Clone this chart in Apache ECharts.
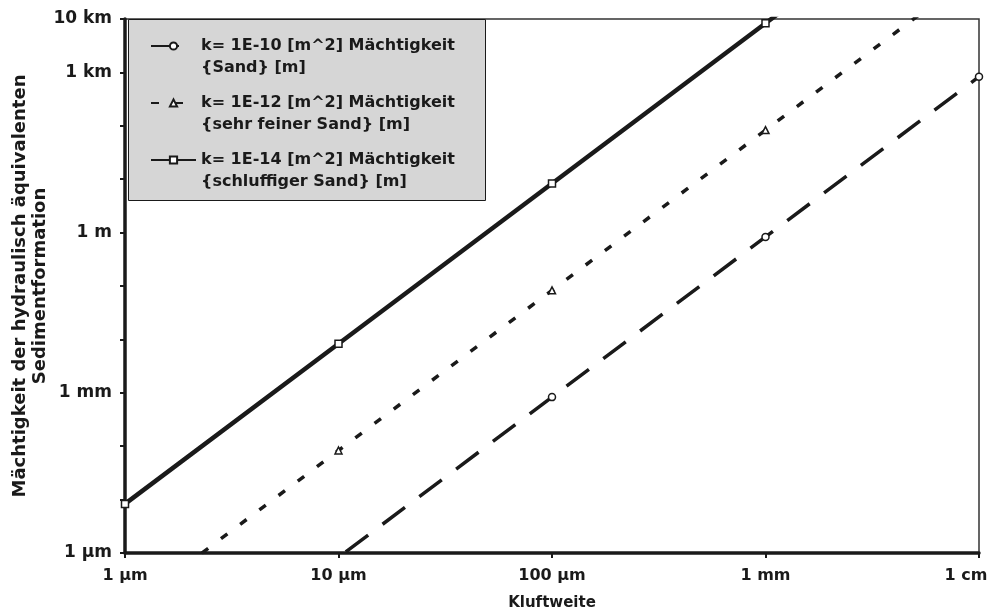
<!DOCTYPE html>
<html><head><meta charset="utf-8">
<script src="https://cdn.jsdelivr.net/npm/echarts@6/dist/echarts.min.js"></script>
<style>html,body{margin:0;padding:0;background:#fff}#c{width:995px;height:612px}</style>
</head><body><div id="c"></div>
<script>
// Data
const kluftweite = [1e-6, 1e-5, 1e-4, 1e-3, 1e-2];           // x values [m]
const hSand = [8.3e-10, 8.3e-7, 8.3e-4, 0.83, 830];           // k=1E-10
const hFeinSand = [8.3e-8, 8.3e-5, 0.083, 83, 83000];         // k=1E-12
const hSchluff = [8.3e-6, 8.3e-3, 8.3, 8300, 8300000];        // k=1E-14
const seriesNames = [
  'k= 1E-10 [m^2] Mächtigkeit\n{Sand} [m]',
  'k= 1E-12 [m^2] Mächtigkeit\n{sehr feiner Sand} [m]',
  'k= 1E-14 [m^2] Mächtigkeit\n{schluffiger Sand} [m]'
];
const xTickLabels = {'-6':'1 µm','-5':'10 µm','-4':'100 µm','-3':'1 mm','-2':'1 cm'};
const yTickLabels = {'-6':'1 µm','-3':'1 mm','0':'1 m','3':'1 km','4':'10 km'};

const font = 'DejaVu Sans';
const ink = '#1a1a1a';
const pairs = (ys) => kluftweite.map((x, i) => [x, ys[i]]);
const expOf = (v) => String(Math.round(Math.log10(v)));
const lab = (map) => (v) => map[expOf(v)] || '';

const chart = echarts.init(document.getElementById('c'));
const mk = (name, ys, sym, lw, dash) => ({
  name, type: 'line', data: pairs(ys), symbol: sym, symbolSize: 7, showAllSymbol: true,
  clip: true, z: 3,
  lineStyle: {color: ink, width: lw, type: dash},
  itemStyle: {color: '#fff', borderColor: ink, borderWidth: 1.5}
});
chart.setOption({
  backgroundColor: '#fff',
  animation: false,
  grid: {left: 125, right: 16, top: 19, bottom: 59, show: true, borderColor: '#333', borderWidth: 1.5,
    outerBoundsMode: 'none', containLabel: false},
  graphic: [{type: 'rect', left: 128, top: 19, shape: {width: 357, height: 181}, z: 10,
    style: {fill: '#d6d6d6', stroke: ink, lineWidth: 1}}],
  legend: {
    left: 150, top: 13, orient: 'vertical', z: 11, itemWidth: 45, itemHeight: 9, itemGap: -9,
    padding: 0, selectedMode: false,
    formatter: (n) => '\n' + n,
    textStyle: {fontFamily: font, fontWeight: 'bold', fontSize: 16, lineHeight: 22, color: ink}
  },
  xAxis: {
    type: 'log', logBase: 10, min: 1e-6, max: 1e-2, interval: 1,
    name: 'Kluftweite', nameLocation: 'middle', nameGap: 43, nameMoveOverlap: false,
    nameTextStyle: {fontFamily: font, fontWeight: 'bold', fontSize: 15, color: ink},
    axisLine: {lineStyle: {color: ink, width: 3.5}},
    axisTick: {inside: false, length: 5, lineStyle: {color: ink, width: 2}},
    axisLabel: {
      formatter: (v) => { const t = xTickLabels[expOf(v)] || ''; return expOf(v) === '-2' ? '{r|' + t + '}' : t; },
      rich: {r: {fontFamily: font, fontWeight: 'bold', fontSize: 16, color: ink, padding: [0, 26, 0, 0]}},
      fontFamily: font, fontWeight: 'bold', fontSize: 16, color: ink, margin: 15,
      showMinLabel: true, showMaxLabel: true},
    splitLine: {show: false}, minorTick: {show: false}
  },
  yAxis: {
    type: 'log', logBase: 10, min: 1e-6, max: 1e4, interval: 1,
    name: 'Mächtigkeit der hydraulisch äquivalenten\nSedimentformation', nameLocation: 'middle', nameGap: 75,
    nameMoveOverlap: false,
    nameTextStyle: {fontFamily: font, fontWeight: 'bold', fontSize: 18, lineHeight: 20, color: ink},
    axisLine: {lineStyle: {color: ink, width: 3.5}},
    axisTick: {length: 5, lineStyle: {color: ink, width: 2}},
    axisLabel: {formatter: lab(yTickLabels), fontFamily: font, fontWeight: 'bold', fontSize: 17, color: ink, margin: 13,
      showMinLabel: true, showMaxLabel: true},
    splitLine: {show: false}, minorTick: {show: false}
  },
  series: [
    mk(seriesNames[0], hSand, 'circle', 3.5, [28, 18]),
    mk(seriesNames[1], hFeinSand, 'triangle', 3.5, [8, 16]),
    mk(seriesNames[2], hSchluff, 'rect', 4.5, 'solid')
  ]
});
</script></body></html>
